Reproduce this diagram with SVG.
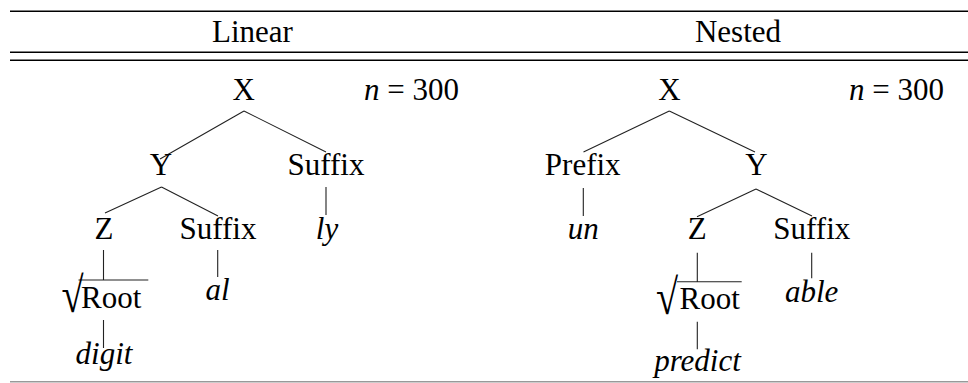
<svg xmlns="http://www.w3.org/2000/svg" width="968" height="383" viewBox="0 0 968 383">
<style>
text{font-family:"Liberation Serif","Times New Roman",Times,serif;font-size:31px;fill:#000}
.m{text-anchor:middle}
.i{font-style:italic}
.rule{stroke:#000;stroke-width:1.4}
.edge{stroke:#222;stroke-width:1.1;fill:none}
</style>
<rect width="968" height="383" fill="#fff"/>
<g id="rules">
<line class="rule" x1="10" y1="11.3" x2="968" y2="11.3"/>
<line class="rule" x1="10" y1="52.3" x2="968" y2="52.3"/>
<line class="rule" x1="10" y1="60.3" x2="968" y2="60.3"/>
<line x1="10" y1="381.8" x2="968" y2="381.8" stroke="#999" stroke-width="1.4"/>
</g>
<g id="headers">
<text class="m" x="252.5" y="42">Linear</text>
<text class="m" x="738" y="42">Nested</text>
</g>
<g id="connectors">
<path class="edge" d="M244,111 L160,159 M244,111 L326,152 M326,187 L326,215 M161.5,187 L105,213 M161.5,187 L218,216 M217.7,250 L217.7,277 M103.5,250 L103.5,280 M78.5,280 L148.3,280 M103.5,320 L103.5,348"/>
<path class="edge" d="M669.3,111 L583.5,152 M669.3,111 L755,152 M583.3,188 L583.3,216 M756,189 L697,216.7 M756,189 L812,216 M697.3,252.7 L697.3,281.7 M677,281.7 L741.7,281.7 M811.7,252.7 L811.7,278.3 M697.3,321.7 L697.3,349.3"/>
</g>
<g id="linear-tree">
<g id="L-X"><text class="m" x="243.7" y="99.5">X</text></g>
<g id="L-n"><text x="364" y="99.5"><tspan class="i">n</tspan> = 300</text></g>
<g id="L-Y"><text class="m" x="161" y="175">Y</text></g>
<g id="L-Suffix1"><text class="m" x="326" y="175">Suffix</text></g>
<g id="L-Z"><text class="m" x="104" y="238.5">Z</text></g>
<g id="L-Suffix2"><text class="m" x="218" y="238.5">Suffix</text></g>
<g id="L-ly"><text class="m i" x="327" y="238.5">ly</text></g>
<g id="L-Root"><text transform="translate(61.5,312) scale(1.3,1.6)" x="0" y="0">√</text><text x="81" y="307.5">Root</text></g>
<g id="L-al"><text class="m i" x="217.5" y="300">al</text></g>
<g id="L-digit"><text class="m i" x="104" y="364">digit</text></g>
</g>
<g id="nested-tree">
<g id="N-X"><text class="m" x="669.5" y="99.5">X</text></g>
<g id="N-n"><text x="849" y="99.5"><tspan class="i">n</tspan> = 300</text></g>
<g id="N-Prefix"><text class="m" x="582.7" y="175">Prefix</text></g>
<g id="N-Y"><text class="m" x="756.5" y="175">Y</text></g>
<g id="N-un"><text class="m i" x="583.3" y="238.5">un</text></g>
<g id="N-Z"><text class="m" x="697.3" y="238.5">Z</text></g>
<g id="N-Suffix"><text class="m" x="811.8" y="238.5">Suffix</text></g>
<g id="N-Root"><text transform="translate(656,313.5) scale(1.3,1.6)" x="0" y="0">√</text><text x="679.5" y="308.5">Root</text></g>
<g id="N-able"><text class="m i" x="811.7" y="301.5">able</text></g>
<g id="N-predict"><text class="m i" x="697.5" y="371">predict</text></g>
</g>
</svg>
